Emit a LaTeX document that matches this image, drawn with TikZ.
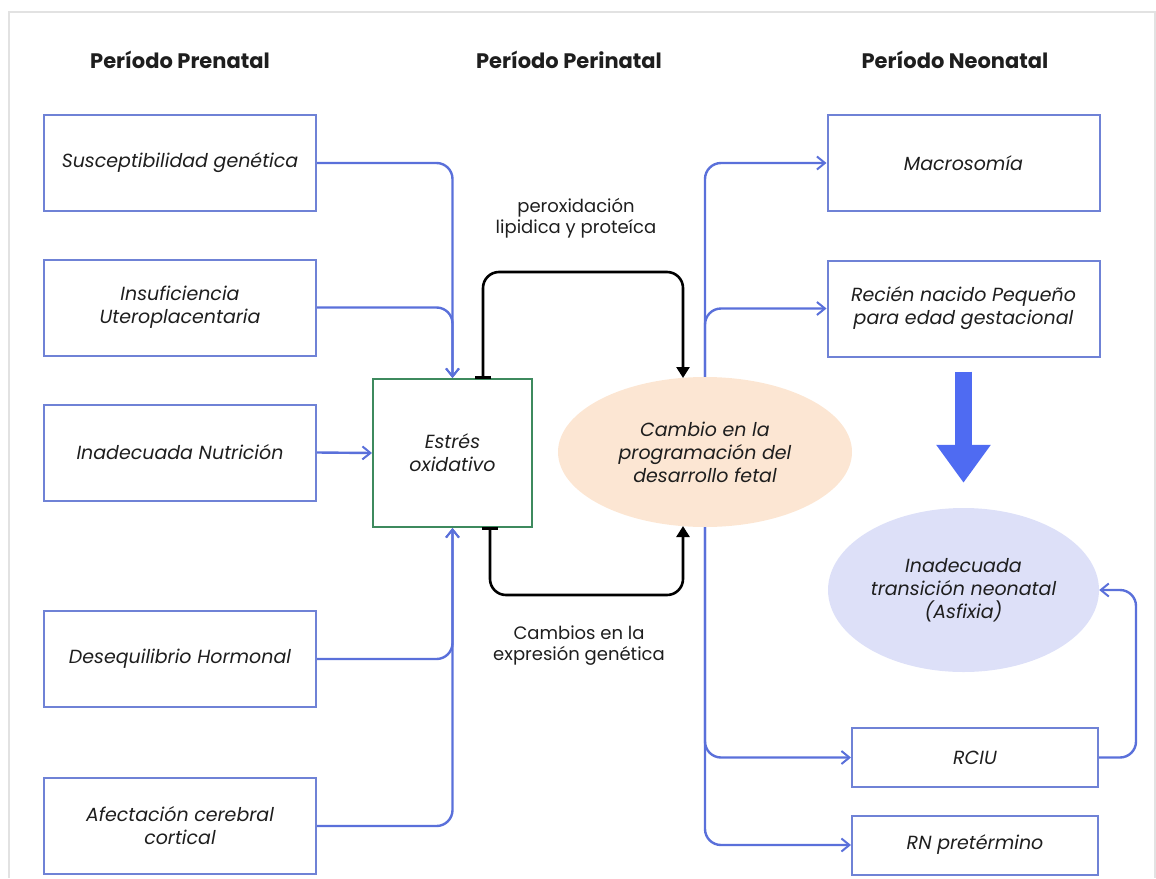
\documentclass[tikz,border=0pt]{standalone}
\usepackage{fontspec}
\setmainfont{Poppins}
\usetikzlibrary{arrows.meta,shapes.geometric}
\definecolor{lineblue}{HTML}{5A70DA}
\definecolor{boxblue}{HTML}{6F82D6}
\definecolor{boxgreen}{HTML}{3E8A5E}
\definecolor{peach}{HTML}{FCE6D3}
\definecolor{lavender}{HTML}{DDE0F8}
\definecolor{bigblue}{HTML}{4F6BF2}
\definecolor{txt}{HTML}{1E1E1E}
\definecolor{frame}{HTML}{E2E2E2}
\begin{document}
\begin{tikzpicture}[x=1pt,y=-1pt,
  every node/.style={text=txt},
  hdr/.style={font=\fontsize{21}{24}\selectfont\bfseries},
  inbox/.style={draw=boxblue,line width=2pt,minimum width=272pt,minimum height=96pt,
    align=center,font=\fontsize{19}{23}\selectfont\itshape,inner sep=0pt},
  outbox/.style={inbox,minimum width=246pt,minimum height=59pt},
  lbl/.style={align=center,font=\fontsize{18}{21}\selectfont},
  feed/.style={draw=lineblue,line width=2.4pt,rounded corners=16pt,-{Straight Barb[length=8pt,width=13pt,line width=2pt]}},
  loop/.style={draw=black,line width=2.6pt,rounded corners=16pt,{Bar[width=16pt,line width=2.6pt]}-{Triangle[length=11pt,width=13pt]}}]
\useasboundingbox (0,0) rectangle (1156,878);
% page frame
\draw[frame,line width=1.5pt] (9,878) -- (9,12) -- (1155,12) -- (1155,878);

% column headings
\node[hdr] (h1) at (180,60) {Período Prenatal};
\node[hdr] (h2) at (569,60) {Período Perinatal};
\node[hdr] (h3) at (955,60) {Período Neonatal};

% prenatal factors
\node[inbox] (s1) at (180,163) {Susceptibilidad genética};
\node[inbox] (s2) at (180,307.5) {Insuficiencia\\Uteroplacentaria};
\node[inbox] (s3) at (180,452.5) {Inadecuada Nutrición};
\node[inbox] (s4) at (180,659) {Desequilibrio Hormonal};
\node[inbox] (s5) at (180,826) {Afectación cerebral\\cortical};

% oxidative stress
\node[draw=boxgreen,line width=2pt,minimum width=159pt,minimum height=148pt,align=center,
  font=\fontsize{19}{23}\selectfont\itshape,inner sep=0pt] (ox) at (452.5,453) {Estrés\\oxidativo};

% fetal programming
\node[ellipse,fill=peach,minimum width=294pt,minimum height=150pt,align=center,
  font=\fontsize{19}{23}\selectfont\itshape,inner sep=0pt] (fp) at (705,452) {Cambio en la\\programación del\\desarrollo fetal};

% neonatal outcomes
\node[inbox] (mac) at (963.5,163) {Macrosomía};
\node[inbox] (peq) at (963.5,308.5) {Recién nacido Pequeño\\para edad gestacional};
\node[outbox] (rciu) at (975,757.5) {RCIU};
\node[outbox] (pret) at (975,845) {RN pretérmino};
\node[ellipse,fill=lavender,minimum width=271pt,minimum height=164pt,align=center,
  font=\fontsize{19}{23}\selectfont\itshape,inner sep=0pt] (asf) at (963.5,590) {Inadecuada\\transición neonatal\\(Asfixia)};

% loop labels
\node[lbl] (l1) at (576,218) {peroxidación\\lipidica y proteíca};
\node[lbl] (l2) at (579,646) {Cambios en la\\expresión genética};

% prenatal factors into oxidative stress
\draw[feed] (s1.east) -| (ox.north);
\draw[feed] (s2.east) -| (ox.north);
\draw[feed] (s3.east) -- (ox.west);
\draw[feed] (s4.east) -| (ox.south);
\draw[feed] (s5.east) -| (ox.south);

% feedback loops between stress and programming
\coordinate (ta) at (483,379);
\coordinate (tb) at (683,378);
\coordinate (ba) at (490,527);
\coordinate (bb) at (683,526);
\draw[loop] (ta) -- (483,272) -- (683,272) -- (tb);
\draw[loop] (ba) -- (490,595) -- (683,595) -- (bb);

% programming to neonatal outcomes
\draw[feed] (fp.north) |- (mac.west);
\draw[feed] (fp.north) |- (peq.west);
\draw[feed] (fp.south) |- (rciu.west);
\draw[feed] (fp.south) |- (pret.west);

% growth restriction to asphyxia
\draw[feed] (rciu.east) -- (1136,757.5) -- (1136,590) -- (asf.east);

% small for gestational age leads to asphyxia
\draw[bigblue,line width=17pt,shorten <=14pt,shorten >=25pt,-{Triangle[length=38pt,width=52pt]}] (peq.south) -- (asf.north);
\end{tikzpicture}
\end{document}
